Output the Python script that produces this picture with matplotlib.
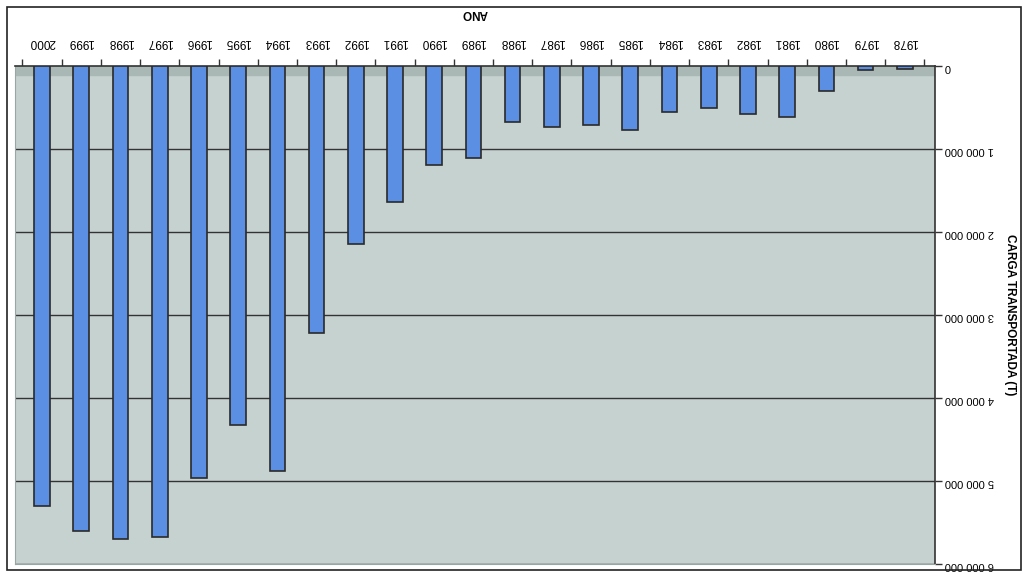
import numpy as np
import matplotlib.pyplot as plt
from matplotlib.ticker import FuncFormatter

plt.rcParams['font.family'] = ['Liberation Sans', 'DejaVu Sans']

# carga transportada por ano (t)
anos = [1978, 1979, 1980, 1981, 1982, 1983, 1984, 1985, 1986, 1987, 1988, 1989,
        1990, 1991, 1992, 1993, 1994, 1995, 1996, 1997, 1998, 1999, 2000]
carga = [40000, 50000, 300000, 610000, 580000, 510000, 560000, 770000, 710000,
         730000, 680000, 1110000, 1190000, 1640000, 2150000, 3220000, 4880000,
         4330000, 4960000, 5670000, 5700000, 5600000, 5300000]
y_ticks = [0, 1000000, 2000000, 3000000, 4000000, 5000000, 6000000]

W, H = 1028, 576
fig = plt.figure(figsize=(W / 100, H / 100), dpi=100)
fig.patch.set_facecolor('white')

ax = fig.add_axes([15 / W, 1 - 564 / H, 920 / W, 498 / H])
ax.set_facecolor('#c6d2d0')

x = np.arange(len(anos))
ax.axhspan(0, 110000, color='#a9b8b4', zorder=1)
ax.bar(x, carga, width=0.4, color='#5b8fe3', edgecolor='#2a2a2a',
       linewidth=1.2, zorder=3)

# the scan is upside down: invert both axes
ax.set_ylim(6000000, 0)
ax.set_xlim(22.69, -0.77)

ax.xaxis.tick_top()
ax.xaxis.set_label_position('top')
ax.yaxis.tick_right()
ax.yaxis.set_label_position('right')

ax.set_xticks(x, [str(a) for a in anos])
ax.set_xticks(np.arange(-0.5, len(anos)), minor=True)
ax.tick_params(axis='x', which='major', length=0, pad=13, labelsize=8.5,
               labelrotation=180)
ax.tick_params(axis='x', which='minor', length=5, width=1, color='#333')

ax.set_yticks(y_ticks)
ax.yaxis.set_major_formatter(
    FuncFormatter(lambda v, p: f"{int(v):,}".replace(",", " ")))
ax.tick_params(axis='y', length=5, width=1, color='#333', labelsize=8,
               labelrotation=180, pad=2)

ax.grid(axis='y', color='#333333', linewidth=1)
ax.set_axisbelow(True)

for s in ['top', 'right']:
    ax.spines[s].set_color('#333333')
    ax.spines[s].set_linewidth(1.2)
for s in ['left', 'bottom']:
    ax.spines[s].set_color('#9aa6a4')
    ax.spines[s].set_linewidth(0.8)

ax.set_xlabel('ANO', rotation=180, fontweight='bold', fontsize=8.5, labelpad=14)
ax.set_ylabel('CARGA TRANSPORTADA (T)', rotation=270, fontweight='bold',
              fontsize=8.5, labelpad=16)

fig.add_artist(plt.Rectangle((7 / W, 6 / H), 1014 / W, 563 / H,
                             transform=fig.transFigure, fill=False,
                             ec='#222222', lw=1.2))

fig.savefig('out.png', dpi=100)
